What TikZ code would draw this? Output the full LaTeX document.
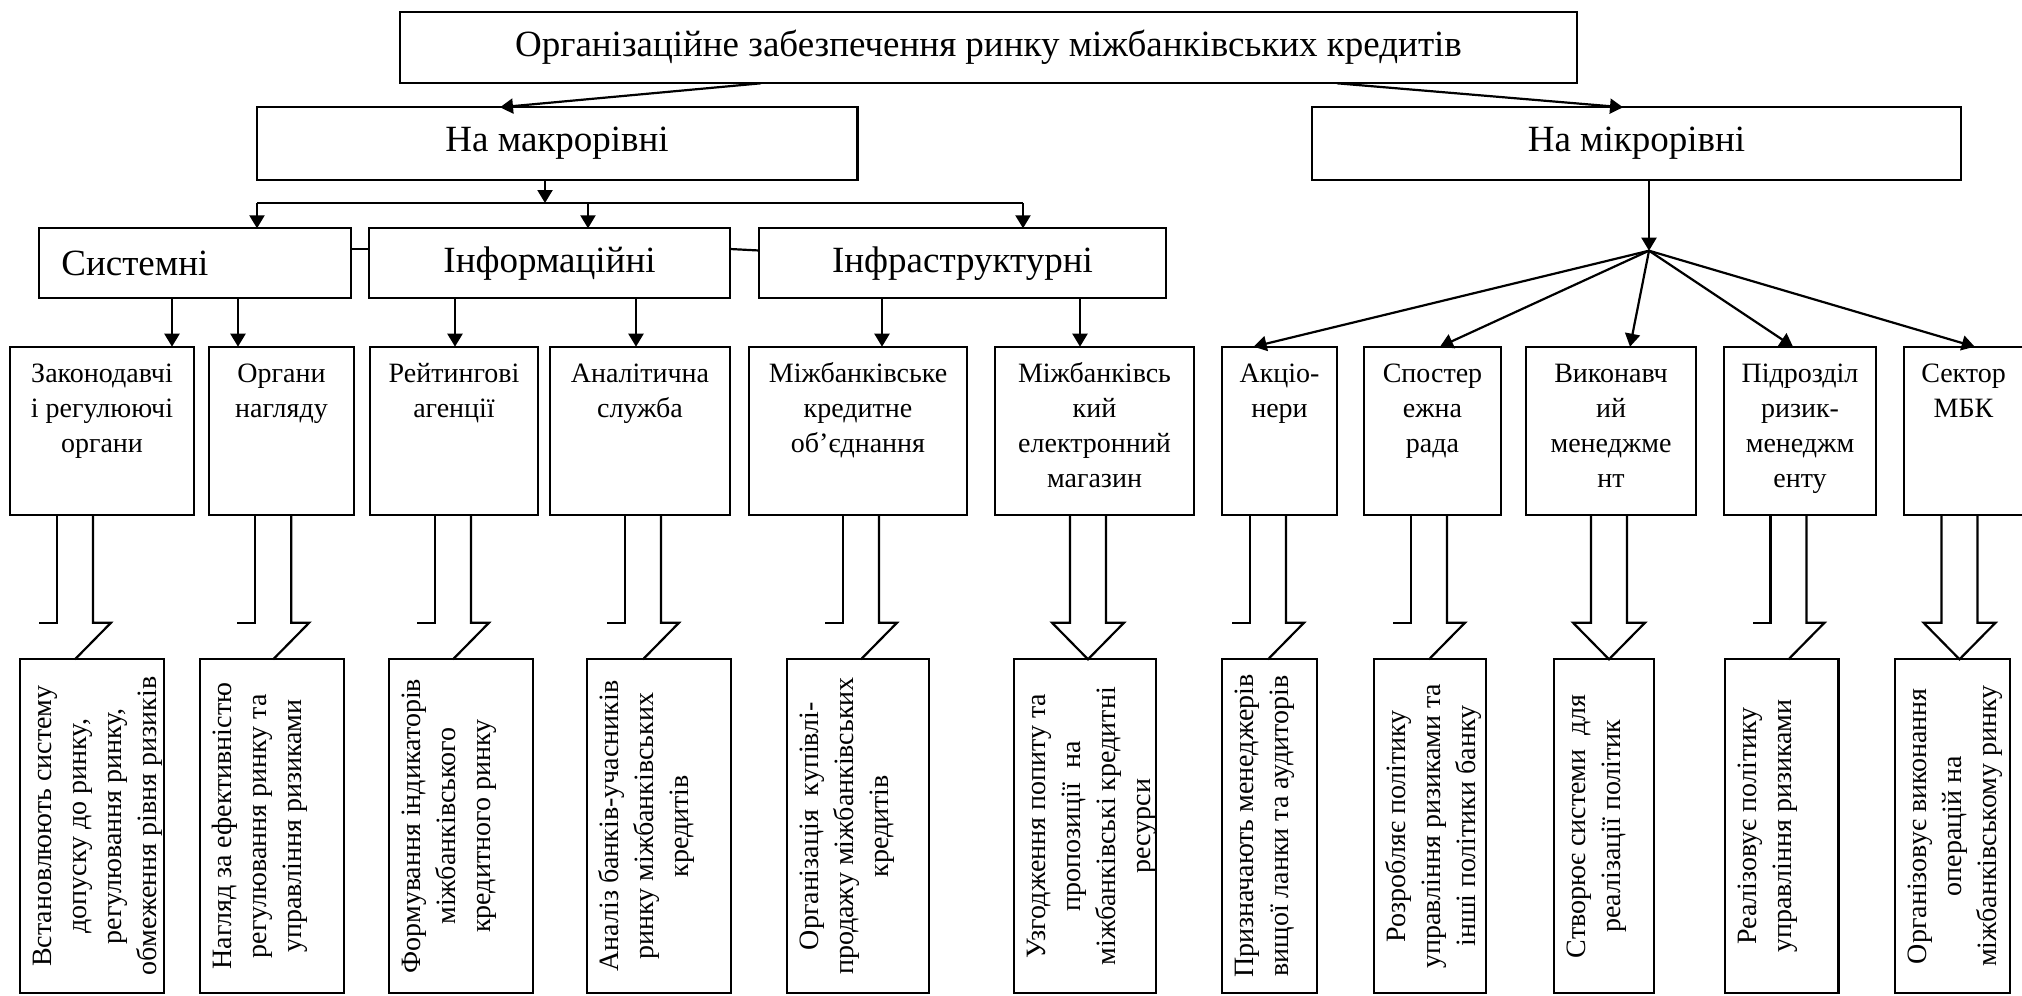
\documentclass[tikz,border=0pt]{standalone}
\usepackage{fontspec}
\setmainfont{Liberation Serif}
\newfontfamily\tnr{Liberation Serif}
\usetikzlibrary{arrows.meta,calc}
\tikzset{
  bx/.style={draw, line width=1.1pt, inner sep=0pt, outer sep=0pt},
  ln/.style={line width=1.1pt},
  arr/.style={line width=1.1pt, -{Triangle[length=6.5pt,width=7.5pt]}},
  big/.style={font=\tnr\fontsize{18.5}{22}\selectfont},
  midtxt/.style={font=\tnr\fontsize{14}{17.5}\selectfont, align=center, inner sep=0pt, anchor=north},
  rottxt/.style={font=\tnr\fontsize{14}{17.5}\selectfont, align=center, inner sep=0pt, anchor=north, rotate=90},
}
\newcommand\mybox[7]{\node[bx,#6,minimum width={(#4-(#2))*0.5pt},minimum height={(#5-(#3))*0.5pt}] (#1) at ({(#2+#4)/2},{(#3+#5)/2}) {#7};}
\newcommand\sr{\rule{0pt}{10.5pt}}
\newcommand\barrh[2]{%
 \draw[ln] ($(#2 |- #1.south)+(-18,0)$) -- ++(0,107.7) -- ++(-18,0);
 \draw[ln] ($(#2 |- #1.south)+(18,0)$) -- ++(0,107.7) -- ++(18,0) -- (#2);}
\newcommand\barrf[2]{%
 \draw[ln] ($(#2 |- #1.south)+(-18,0)$) -- ++(0,107.7) -- ++(-18,0) -- (#2) -- ++(36,-36.6) -- ++(-18,0) -- ($(#2 |- #1.south)+(18,0)$);}
\begin{document}
\begin{tikzpicture}[x=0.5pt,y=-0.5pt]
\fill[white] (0,0) rectangle (2022,995);
\useasboundingbox (0,0) rectangle (2022,995);
% level 0 and 1
\mybox{top}{400}{11.7}{1577}{83.3}{big}{Організаційне забезпечення ринку міжбанківських кредитів}
\mybox{macro}{256.6}{107.3}{857.5}{180}{big}{На макрорівні}
\mybox{micro}{1312}{107.3}{1961}{180}{big}{На мікрорівні}
% level 2
\mybox{sys}{39}{228.3}{351}{298.3}{}{}
\node[big, anchor=west, inner sep=0pt] (systxt) at (61,263.3) {Системні};
\mybox{inf}{369}{228.3}{730}{298.3}{big}{Інформаційні}
\mybox{infr}{759}{228.3}{1166}{298.3}{big}{Інфраструктурні}
\draw[ln] ($(sys.east)+(0,-14.3)$) -- ($(inf.west)+(0,-14.3)$);
\draw[ln] ($(inf.east)+(0,-14.3)$) -- ($(infr.west)+(0,-12.8)$);
% level 3 boxes
\mybox{m1}{10}{346.7}{194}{515}{}{}
\mybox{m2}{209}{346.7}{354}{515}{}{}
\mybox{m3}{370}{346.7}{538}{515}{}{}
\mybox{m4}{550}{346.7}{730}{515}{}{}
\mybox{m5}{749}{346.7}{967}{515}{}{}
\mybox{m6}{995}{346.7}{1194}{515}{}{}
\mybox{m7}{1222}{346.7}{1337}{515}{}{}
\mybox{m8}{1364}{346.7}{1501}{515}{}{}
\mybox{m9}{1526}{346.7}{1696}{515}{}{}
\mybox{m10}{1724}{346.7}{1876}{515}{}{}
\mybox{m11}{1904}{346.7}{2023}{515}{}{}
\node[midtxt] (n1) at ($(m1.north)+(0,14)$) {\sr Законодавчі\\і регулюючі\\органи};
\node[midtxt] (n2) at ($(m2.north)+(0,14)$) {\sr Органи\\нагляду};
\node[midtxt] (n3) at ($(m3.north)+(0,14)$) {\sr Рейтингові\\агенції};
\node[midtxt] (n4) at ($(m4.north)+(0,14)$) {\sr Аналітична\\служба};
\node[midtxt] (n5) at ($(m5.north)+(0,14)$) {\sr Міжбанківське\\кредитне\\об’єднання};
\node[midtxt] (n6) at ($(m6.north)+(0,14)$) {\sr Міжбанківсь\\кий\\електронний\\магазин};
\node[midtxt] (n7) at ($(m7.north)+(0,14)$) {\sr Акціо-\\нери};
\node[midtxt] (n8) at ($(m8.north)+(0,14)$) {\sr Спостер\\ежна\\рада};
\node[midtxt] (n9) at ($(m9.north)+(0,14)$) {\sr Виконавч\\ий\\менеджме\\нт};
\node[midtxt] (n10) at ($(m10.north)+(0,14)$) {\sr Підрозділ\\ризик-\\менеджм\\енту};
\node[midtxt] (n11) at ($(m11.north)+(0,14)$) {\sr Сектор\\МБК};
% bottom boxes
\mybox{b1}{20}{659.3}{164}{993}{}{}
\mybox{b2}{200}{659.3}{344}{993}{}{}
\mybox{b3}{389}{659.3}{533}{993}{}{}
\mybox{b4}{587}{659.3}{731}{993}{}{}
\mybox{b5}{787}{659.3}{929}{993}{}{}
\mybox{b6}{1014}{659.3}{1156}{993}{}{}
\mybox{b7}{1222}{659.3}{1317}{993}{}{}
\mybox{b8}{1374}{659.3}{1486}{993}{}{}
\mybox{b9}{1554}{659.3}{1654}{993}{}{}
\mybox{b10}{1725}{659.3}{1838.5}{993}{}{}
\mybox{b11}{1895}{659.3}{2010}{993}{}{}
\node[rottxt] (r1) at ($(b1.west)+(10,0)$) {\sr Встановлюють систему\\допуску до ринку,\\регулювання ринку,\\обмеження рівня ризиків};
\node[rottxt] (r2) at ($(b2.west)+(10,0)$) {\sr Нагляд за ефективністю\\регулювання ринку та\\управління ризиками};
\node[rottxt] (r3) at ($(b3.west)+(10,0)$) {\sr Формування індикаторів\\міжбанківського\\кредитного ринку};
\node[rottxt] (r4) at ($(b4.west)+(10,0)$) {\sr Аналіз банків-учасників\\ринку міжбанківських\\кредитів};
\node[rottxt] (r5) at ($(b5.west)+(10,0)$) {\sr Організація\ \ купівлі-\\продажу міжбанківських\\кредитів};
\node[rottxt] (r6) at ($(b6.west)+(10,0)$) {\sr Узгодження попиту та\\пропозиції\ \ на\\міжбанківські кредитні\\ресурси};
\node[rottxt] (r7) at ($(b7.west)+(10,0)$) {\sr Призначають менеджерів\\вищої ланки та аудиторів};
\node[rottxt] (r8) at ($(b8.west)+(10,0)$) {\sr Розробляє політику\\управління ризиками та\\інші політики банку};
\node[rottxt] (r9) at ($(b9.west)+(10,0)$) {\sr Створює системи\ \ для\\реалізації політик};
\node[rottxt] (r10) at ($(b10.west)+(10,0)$) {\sr Реалізовує політику\\управління ризиками};
\node[rottxt] (r11) at ($(b11.west)+(10,0)$) {\sr Організовує виконання\\операцій на\\міжбанківському ринку};
% connectors top
\draw[arr] ($(top.south west)+(361,0)$) -- ($(macro.north west)+(243.4,0)$);
\draw[arr] ($(top.south west)+(937,0)$) -- ($(micro.north west)+(311,0)$);
\coordinate (busL) at (257,203);
\coordinate (busM) at (545,203);
\coordinate (busI) at (588,203);
\coordinate (busR) at (1023,203);
\draw[ln] (busL) -- (busR);
\draw[arr] (macro.south -| busM) -- (busM);
\draw[arr] (busL) -- (busL |- sys.north);
\draw[arr] (busI) -- (busI |- inf.north);
\draw[arr] (busR) -- (busR |- infr.north);
% level 2 -> 3
\draw[arr] (172,0 |- sys.south) -- (172,0 |- m1.north);
\draw[arr] (238,0 |- sys.south) -- (238,0 |- m2.north);
\draw[arr] (455,0 |- inf.south) -- (455,0 |- m3.north);
\draw[arr] (636,0 |- inf.south) -- (636,0 |- m4.north);
\draw[arr] (882,0 |- infr.south) -- (882,0 |- m5.north);
\draw[arr] (1080,0 |- infr.south) -- (1080,0 |- m6.north);
% micro fan
\coordinate (apex) at (1649,250.7);
\draw[arr] (micro.south -| apex) -- (apex);
\draw[arr] (apex) -- (1253.6,0 |- m7.north);
\draw[arr] (apex) -- (1440,0 |- m8.north);
\draw[arr] (apex) -- (1630,0 |- m9.north);
\draw[arr] (apex) -- (1793,0 |- m10.north);
\draw[arr] (apex) -- (1974.7,0 |- m11.north);
% block arrows
\coordinate (t1) at (75,0 |- b1.north);
\coordinate (t2) at (273.2,0 |- b2.north);
\coordinate (t3) at (453,0 |- b3.north);
\coordinate (t4) at (643,0 |- b4.north);
\coordinate (t5) at (861,0 |- b5.north);
\coordinate (t6) at (1088,0 |- b6.north);
\coordinate (t7) at (1268,0 |- b7.north);
\coordinate (t8) at (1429,0 |- b8.north);
\coordinate (t9) at (1609,0 |- b9.north);
\coordinate (t10) at (1788.5,0 |- b10.north);
\coordinate (t11) at (1959.5,0 |- b11.north);
\barrh{m1}{t1}
\barrh{m2}{t2}
\barrh{m3}{t3}
\barrh{m4}{t4}
\barrh{m5}{t5}
\barrf{m6}{t6}
\barrh{m7}{t7}
\barrh{m8}{t8}
\barrf{m9}{t9}
\barrh{m10}{t10}
\barrf{m11}{t11}
\end{tikzpicture}
\end{document}
